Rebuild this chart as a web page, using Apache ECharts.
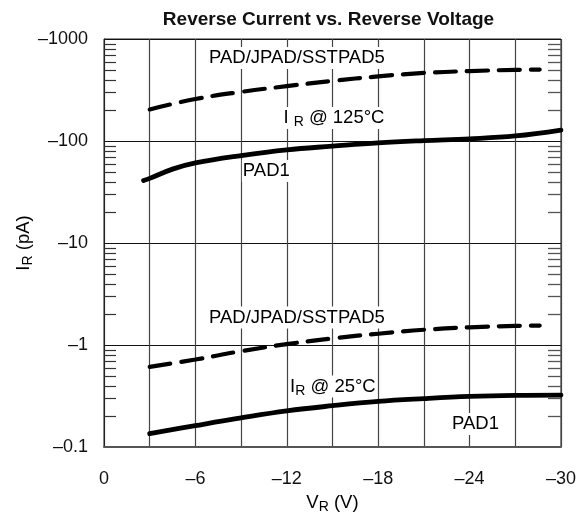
<!DOCTYPE html>
<html><head><meta charset="utf-8">
<script src="https://cdn.jsdelivr.net/npm/echarts@6/dist/echarts.min.js"></script>
<style>html,body{margin:0;padding:0;background:#fff}#c{width:579px;height:521px}</style>
</head><body><div id="c"></div>
<script>
// ---- data (reverse voltage magnitude in V, reverse current magnitude in pA) ----
const pad5_125_x = [3, 6, 9, 12, 15, 18, 21, 24, 27, 28.6];
const pad5_125_y = [204, 258, 303, 345, 388, 430, 465, 485, 498, 502];
const pad1_125_x = [2.6, 3, 4.5, 6, 9, 12, 15, 18, 21, 24, 27, 30];
const pad1_125_y = [41, 43, 53, 61, 72, 82, 89, 96, 101, 105, 112, 128];
const pad5_25_x = [3, 6, 9, 12, 15, 18, 21, 24, 27, 28.6];
const pad5_25_y = [0.61, 0.72, 0.87, 1.02, 1.16, 1.29, 1.41, 1.49, 1.54, 1.55];
const pad1_25_x = [3, 6, 9, 12, 15, 18, 21, 24, 27, 30];
const pad1_25_y = [0.135, 0.162, 0.193, 0.226, 0.254, 0.28, 0.298, 0.313, 0.321, 0.323];

const xTickValues = [0, 6, 12, 18, 24, 30];
const yDecades = [0.1, 1, 10, 100];
const minorMultipliers = [2, 3, 4, 5, 6, 7, 8, 9];

const titleText = 'Reverse Current vs. Reverse Voltage';
// annotation anchors in data space: [x, y, text]
const annotations = [
  [6.83, 652, '{a|PAD/JPAD/SSTPAD5}'],
  [11.71, 168, '{a|I }{s|R}{a| @ 125°C}'],
  [9.05, 50.8, '{a|PAD1}'],
  [6.83, 1.86, '{a|PAD/JPAD/SSTPAD5}'],
  [12.15, 0.392, '{a|I}{s|R}{a| @ 25°C}'],
  [22.78, 0.168, '{a|PAD1}']
];

const FONT = "'Liberation Sans', Arial, Helvetica, sans-serif";
const pairs = (xs, ys) => xs.map((x, i) => [x, ys[i]]);
const minorTickValues = [];
yDecades.forEach(d => minorMultipliers.forEach(m => minorTickValues.push(+(d * m).toPrecision(3))));
const dash = (v) => v === 0 ? '0' : '\u2013' + v;

const chart = echarts.init(document.getElementById('c'), null, {renderer: 'canvas'});
const lineSeries = (data, dashed) => ({
  type: 'line', data, symbol: 'none', smooth: 0.4, silent: true, z: 5,
  lineStyle: {color: '#000', width: dashed ? 4.2 : 4.8, type: dashed ? [21, 11] : 'solid', cap: 'round'}
});

chart.setOption({
  animation: false,
  backgroundColor: '#fff',
  grid: {left: 104, right: 14, top: 39, bottom: 74, show: true, borderColor: '#222', borderWidth: 1},
  xAxis: {
    type: 'value', min: 0, max: 30, interval: 3,
    axisLine: {show: true, lineStyle: {color: '#555', width: 2}},
    axisTick: {show: false},
    splitLine: {show: true, lineStyle: {color: '#444', width: 1.2}},
    axisLabel: {
      margin: 23, fontSize: 18, color: '#111', fontFamily: FONT,
      formatter: v => xTickValues.indexOf(v) >= 0 ? dash(v) : ''
    }
  },
  yAxis: {
    type: 'log', logBase: 10, min: 0.1, max: 1000,
    axisLine: {show: true, lineStyle: {color: '#222', width: 1}},
    axisTick: {show: false},
    minorTick: {show: false},
    splitLine: {show: true, lineStyle: {color: '#111', width: 1}},
    axisLabel: {
      margin: 16, fontSize: 18, color: '#111', fontFamily: FONT,
      formatter: v => dash(+Number(v).toPrecision(3))
    }
  },
  series: [
    {
      type: 'custom', silent: true, z: 3,
      data: minorTickValues.map(v => [0, v]),
      encode: {x: 0, y: 1},
      renderItem: (params, api) => {
        const cs = params.coordSys;
        const y = Math.round(api.coord([0, api.value(1)])[1]) + 0.5;
        return {type: 'group', children: [
          {type: 'line', shape: {x1: cs.x, y1: y, x2: cs.x + 12, y2: y}, style: {stroke: '#333', lineWidth: 1.2}},
          {type: 'line', shape: {x1: cs.x + cs.width - 13, y1: y, x2: cs.x + cs.width, y2: y}, style: {stroke: '#555', lineWidth: 1.3}}
        ]};
      }
    },
    lineSeries(pairs(pad5_125_x, pad5_125_y), true),
    lineSeries(pairs(pad1_125_x, pad1_125_y), false),
    lineSeries(pairs(pad5_25_x, pad5_25_y), true),
    lineSeries(pairs(pad1_25_x, pad1_25_y), false)
  ]
});

// text placed through the chart's own coordinate conversion
const toPx = (x, y) => chart.convertToPixel({gridIndex: 0}, [x, y]);
const rich = {
  a: {fontSize: 18.5, fontFamily: FONT, color: '#111', lineHeight: 22, verticalAlign: 'middle'},
  s: {fontSize: 14, fontFamily: FONT, color: '#111', lineHeight: 22, padding: [9, 0, 0, 0], verticalAlign: 'middle'}
};
const topLeft = toPx(0, 1000), botRight = toPx(30, 0.1);
const cx = (topLeft[0] + botRight[0]) / 2, cy = (topLeft[1] + botRight[1]) / 2;
const graphics = annotations.map(a => {
  const p = toPx(a[0], a[1]);
  return {type: 'text', x: p[0], y: p[1], z: 10, silent: true,
    style: {text: a[2], rich, align: 'left', verticalAlign: 'middle', backgroundColor: '#fff', padding: [0, 1]}};
});
graphics.push({type: 'text', x: cx - 4, y: 20, silent: true,
  style: {text: titleText, font: 'bold 19px ' + FONT, fill: '#111', align: 'center', verticalAlign: 'middle'}});
graphics.push({type: 'text', x: cx, y: botRight[1] + 56, silent: true,
  style: {text: '{a|V}{s|R}{a| (V)}', rich, align: 'center', verticalAlign: 'middle'}});
graphics.push({type: 'text', x: 24, y: cy, rotation: Math.PI / 2, silent: true,
  style: {text: '{a|I}{s|R}{a| (pA)}', rich, align: 'center', verticalAlign: 'middle'}});
chart.setOption({graphic: graphics});
</script></body></html>
